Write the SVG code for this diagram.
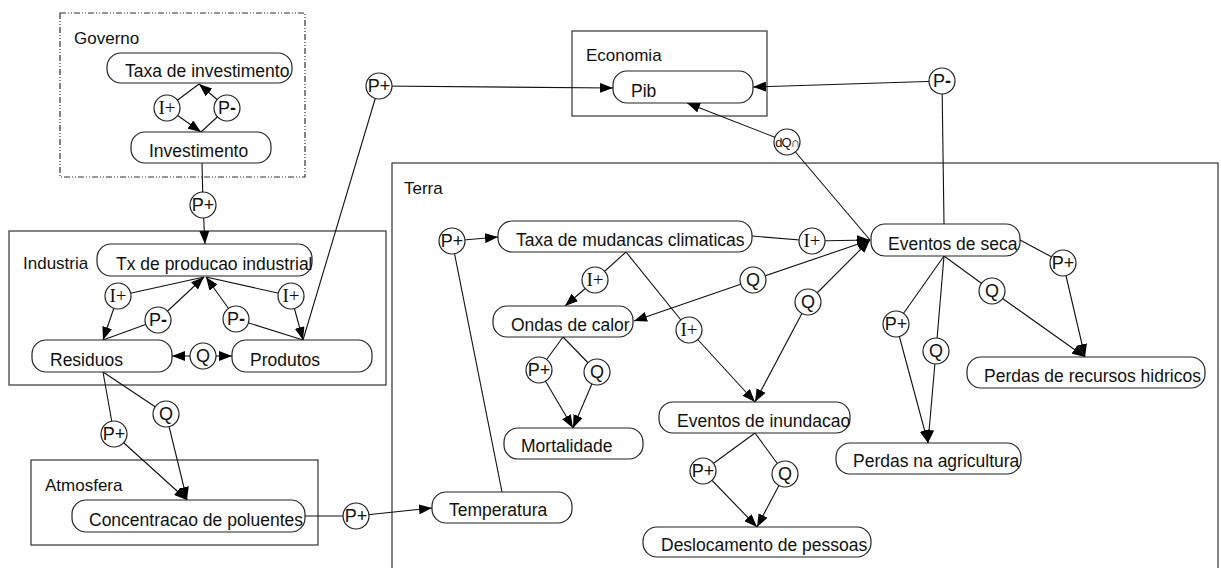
<svg xmlns="http://www.w3.org/2000/svg" width="1221" height="568" viewBox="0 0 1221 568">
<style>
.grp{fill:none;stroke:#333;stroke-width:1.2}
.gl{font-family:"Liberation Sans",Arial,sans-serif;font-size:17px;fill:#111}
.nd{fill:#fff;stroke:#222;stroke-width:1.2}
.nt{font-family:"Liberation Sans",Arial,sans-serif;font-size:17.5px;fill:#111}
.c{fill:#fff;stroke:#222;stroke-width:1.2}
.ct{font-family:"Liberation Sans",Arial,sans-serif;font-size:18px;fill:#111;text-anchor:middle}
.ci{font-family:"Liberation Serif","Times New Roman",serif;font-size:19px;fill:#111;text-anchor:middle}
.dq{font-family:"Liberation Sans",Arial,sans-serif;font-size:13px;fill:#111;text-anchor:middle;letter-spacing:-1px}
.e{fill:none;stroke:#111;stroke-width:1.1}
.a{marker-end:url(#ah)}
.b{marker-start:url(#ah)}
</style>
<defs>
<marker id="ah" markerUnits="userSpaceOnUse" markerWidth="13" markerHeight="10" refX="13" refY="5" orient="auto-start-reverse">
<path d="M0,0 L13,5 L0,10 z" fill="#000"/>
</marker>
</defs>
<rect width="1221" height="568" fill="#fff"/>
<g id="groups">
<rect class="grp" x="60" y="13" width="245" height="164" stroke-dasharray="6,2,1,2,1,2"/>
<text class="gl" x="74" y="44">Governo</text>
<rect class="grp" x="9" y="231" width="377" height="154"/>
<text class="gl" x="23" y="269">Industria</text>
<rect class="grp" x="31" y="460" width="287" height="85"/>
<text class="gl" x="45" y="491">Atmosfera</text>
<rect class="grp" x="572" y="31" width="195" height="85"/>
<text class="gl" x="586" y="61">Economia</text>
<rect class="grp" x="392" y="163" width="826" height="420"/>
<text class="gl" x="404" y="194">Terra</text>
</g>
<g id="connectors">
<line class="e" x1="199" y1="84" x2="167" y2="108"/>
<line class="e a" x1="167" y1="108" x2="201" y2="132"/>
<line class="e" x1="201" y1="132" x2="227" y2="108"/>
<line class="e a" x1="227" y1="108" x2="199" y2="84"/>
<line class="e" x1="202" y1="163" x2="203" y2="205"/>
<line class="e a" x1="203" y1="205" x2="205" y2="244"/>
<line class="e" x1="204" y1="277" x2="118" y2="296"/>
<line class="e a" x1="118" y1="296" x2="103" y2="340"/>
<line class="e" x1="103" y1="340" x2="158" y2="320"/>
<line class="e a" x1="158" y1="320" x2="204" y2="277"/>
<line class="e" x1="303" y1="340" x2="236" y2="319"/>
<line class="e a" x1="236" y1="319" x2="206" y2="277"/>
<line class="e" x1="206" y1="277" x2="291" y2="296"/>
<line class="e a" x1="291" y1="296" x2="303" y2="340"/>
<line class="e a" x1="203" y1="356" x2="172" y2="356"/>
<line class="e a" x1="203" y1="356" x2="232" y2="356"/>
<line class="e" x1="303" y1="340" x2="379" y2="86"/>
<line class="e a" x1="379" y1="86" x2="613" y2="88"/>
<line class="e" x1="103" y1="372" x2="114" y2="434"/>
<line class="e a" x1="114" y1="434" x2="187" y2="500"/>
<line class="e" x1="103" y1="372" x2="166" y2="414"/>
<line class="e a" x1="166" y1="414" x2="187" y2="500"/>
<line class="e" x1="305" y1="516" x2="356" y2="516"/>
<line class="e a" x1="356" y1="516" x2="432" y2="508"/>
<line class="e" x1="502" y1="492" x2="452" y2="241"/>
<line class="e a" x1="452" y1="241" x2="498" y2="237"/>
<line class="e" x1="752" y1="236" x2="812" y2="241"/>
<line class="e a" x1="812" y1="241" x2="870" y2="240"/>
<line class="e" x1="626" y1="252" x2="595" y2="280"/>
<line class="e a" x1="595" y1="280" x2="565" y2="306"/>
<line class="e b" x1="870" y1="240" x2="753" y2="280"/>
<line class="e a" x1="753" y1="280" x2="634" y2="321"/>
<line class="e" x1="626" y1="252" x2="689" y2="330"/>
<line class="e a" x1="689" y1="330" x2="755" y2="402"/>
<line class="e b" x1="870" y1="240" x2="808" y2="302"/>
<line class="e a" x1="808" y1="302" x2="755" y2="402"/>
<line class="e" x1="563" y1="337" x2="539" y2="370"/>
<line class="e a" x1="539" y1="370" x2="573" y2="428"/>
<line class="e" x1="563" y1="337" x2="597" y2="372"/>
<line class="e a" x1="597" y1="372" x2="573" y2="428"/>
<line class="e" x1="755" y1="433" x2="703" y2="471"/>
<line class="e a" x1="703" y1="471" x2="757" y2="527"/>
<line class="e" x1="755" y1="433" x2="785" y2="474"/>
<line class="e a" x1="785" y1="474" x2="757" y2="527"/>
<line class="e" x1="944" y1="256" x2="896" y2="324"/>
<line class="e a" x1="896" y1="324" x2="928" y2="443"/>
<line class="e" x1="944" y1="256" x2="936" y2="351"/>
<line class="e a" x1="936" y1="351" x2="928" y2="443"/>
<line class="e" x1="944" y1="256" x2="992" y2="291"/>
<line class="e a" x1="992" y1="291" x2="1085" y2="357"/>
<line class="e" x1="1020" y1="240" x2="1063" y2="263"/>
<line class="e a" x1="1063" y1="263" x2="1085" y2="357"/>
<line class="e" x1="944" y1="224" x2="942" y2="81"/>
<line class="e a" x1="942" y1="81" x2="753" y2="87"/>
<line class="e" x1="870" y1="240" x2="787" y2="142"/>
<line class="e a" x1="787" y1="142" x2="687" y2="103"/>
</g>
<g id="n-taxa-investimento"><rect class="nd" x="107" y="53" width="185" height="30" rx="14"/><text class="nt" x="125" y="77">Taxa de investimento</text></g>
<g id="n-investimento"><rect class="nd" x="131" y="132" width="140" height="31" rx="14"/><text class="nt" x="149" y="157">Investimento</text></g>
<g id="n-tx-producao"><rect class="nd" x="97" y="244" width="215" height="32" rx="14"/><text class="nt" x="116" y="270">Tx de producao industrial</text></g>
<g id="n-residuos"><rect class="nd" x="32" y="340" width="140" height="32" rx="14"/><text class="nt" x="50" y="366">Residuos</text></g>
<g id="n-produtos"><rect class="nd" x="232" y="340" width="140" height="32" rx="14"/><text class="nt" x="250" y="366">Produtos</text></g>
<g id="n-concentracao"><rect class="nd" x="72" y="500" width="233" height="32" rx="14"/><text class="nt" x="89" y="526">Concentracao de poluentes</text></g>
<g id="n-pib"><rect class="nd" x="613" y="71" width="140" height="32" rx="14"/><text class="nt" x="631" y="97">Pib</text></g>
<g id="n-taxa-mudancas"><rect class="nd" x="498" y="221" width="254" height="31" rx="14"/><text class="nt" x="516" y="246">Taxa de mudancas climaticas</text></g>
<g id="n-eventos-seca"><rect class="nd" x="871" y="224" width="149" height="32" rx="14"/><text class="nt" x="888" y="250">Eventos de seca</text></g>
<g id="n-ondas"><rect class="nd" x="493" y="306" width="140" height="31" rx="14"/><text class="nt" x="511" y="331">Ondas de calor</text></g>
<g id="n-mortalidade"><rect class="nd" x="504" y="428" width="139" height="31" rx="14"/><text class="nt" x="521" y="452">Mortalidade</text></g>
<g id="n-temperatura"><rect class="nd" x="432" y="492" width="140" height="31" rx="14"/><text class="nt" x="449" y="516">Temperatura</text></g>
<g id="n-inundacao"><rect class="nd" x="659" y="402" width="191" height="31" rx="14"/><text class="nt" x="677" y="427">Eventos de inundacao</text></g>
<g id="n-deslocamento"><rect class="nd" x="643" y="527" width="228" height="30" rx="14"/><text class="nt" x="661" y="551">Deslocamento de pessoas</text></g>
<g id="n-recursos"><rect class="nd" x="967" y="357" width="238" height="31" rx="14"/><text class="nt" x="984" y="382">Perdas de recursos hidricos</text></g>
<g id="n-agricultura"><rect class="nd" x="836" y="443" width="185" height="31" rx="14"/><text class="nt" x="853" y="467">Perdas na agricultura</text></g>
<g id="c1"><circle class="c" cx="167" cy="108" r="13"/><text class="ci" x="167" y="114">I+</text></g>
<g id="c2"><circle class="c" cx="227" cy="108" r="13"/><text class="ct" x="227" y="114">P<tspan font-weight="bold">-</tspan></text></g>
<g id="c3"><circle class="c" cx="203" cy="205" r="13"/><text class="ct" x="203" y="211">P+</text></g>
<g id="c4"><circle class="c" cx="118" cy="296" r="13"/><text class="ci" x="118" y="302">I+</text></g>
<g id="c5"><circle class="c" cx="158" cy="320" r="13"/><text class="ct" x="158" y="326">P<tspan font-weight="bold">-</tspan></text></g>
<g id="c6"><circle class="c" cx="236" cy="319" r="13"/><text class="ct" x="236" y="325">P<tspan font-weight="bold">-</tspan></text></g>
<g id="c7"><circle class="c" cx="291" cy="296" r="13"/><text class="ci" x="291" y="302">I+</text></g>
<g id="c8"><circle class="c" cx="203" cy="356" r="13"/><text class="ct" x="203" y="362">Q</text></g>
<g id="c9"><circle class="c" cx="114" cy="434" r="13"/><text class="ct" x="114" y="440">P+</text></g>
<g id="c10"><circle class="c" cx="166" cy="414" r="13"/><text class="ct" x="166" y="420">Q</text></g>
<g id="c11"><circle class="c" cx="356" cy="516" r="13"/><text class="ct" x="356" y="522">P+</text></g>
<g id="c12"><circle class="c" cx="379" cy="86" r="13"/><text class="ct" x="379" y="92">P+</text></g>
<g id="c13"><circle class="c" cx="942" cy="81" r="13"/><text class="ct" x="942" y="87">P<tspan font-weight="bold">-</tspan></text></g>
<g id="c14"><circle class="c" cx="787" cy="142" r="13"/><text class="dq" x="787" y="147">dQ∩</text></g>
<g id="c15"><circle class="c" cx="452" cy="241" r="13"/><text class="ct" x="452" y="247">P+</text></g>
<g id="c16"><circle class="c" cx="812" cy="241" r="13"/><text class="ci" x="812" y="247">I+</text></g>
<g id="c17"><circle class="c" cx="595" cy="280" r="13"/><text class="ci" x="595" y="286">I+</text></g>
<g id="c18"><circle class="c" cx="753" cy="280" r="13"/><text class="ct" x="753" y="286">Q</text></g>
<g id="c19"><circle class="c" cx="808" cy="302" r="13"/><text class="ct" x="808" y="308">Q</text></g>
<g id="c20"><circle class="c" cx="689" cy="330" r="13"/><text class="ci" x="689" y="336">I+</text></g>
<g id="c21"><circle class="c" cx="539" cy="370" r="13"/><text class="ct" x="539" y="376">P+</text></g>
<g id="c22"><circle class="c" cx="597" cy="372" r="13"/><text class="ct" x="597" y="378">Q</text></g>
<g id="c23"><circle class="c" cx="703" cy="471" r="13"/><text class="ct" x="703" y="477">P+</text></g>
<g id="c24"><circle class="c" cx="785" cy="474" r="13"/><text class="ct" x="785" y="480">Q</text></g>
<g id="c25"><circle class="c" cx="896" cy="324" r="13"/><text class="ct" x="896" y="330">P+</text></g>
<g id="c26"><circle class="c" cx="936" cy="351" r="13"/><text class="ct" x="936" y="357">Q</text></g>
<g id="c27"><circle class="c" cx="992" cy="291" r="13"/><text class="ct" x="992" y="297">Q</text></g>
<g id="c28"><circle class="c" cx="1063" cy="263" r="13"/><text class="ct" x="1063" y="269">P+</text></g>
</svg>
